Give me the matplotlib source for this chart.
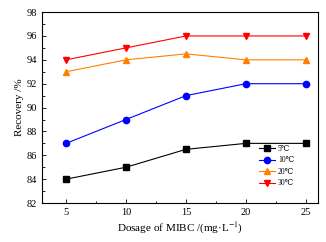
import matplotlib
matplotlib.use("Agg")
import matplotlib.pyplot as plt
from matplotlib.ticker import MultipleLocator

dosage = [5, 10, 15, 20, 25]
rec_5 = [84, 85, 86.5, 87, 87]
rec_10 = [87, 89, 91, 92, 92]
rec_20 = [93, 94, 94.5, 94, 94]
rec_30 = [94, 95, 96, 96, 96]
labels = ["5\u2103", "10\u2103", "20\u2103", "30\u2103"]

plt.rcParams["font.family"] = ["Liberation Serif", "DejaVu Serif"]
plt.rcParams["mathtext.fontset"] = "stix"

fig = plt.figure(figsize=(3.26, 2.42), dpi=100)
ax = fig.add_axes([0.129, 0.161, 0.846, 0.789])

styles = [("black", "s"), ("blue", "o"), ("#ff8000", "^"), ("red", "v")]
for ys, lab, (c, mk) in zip([rec_5, rec_10, rec_20, rec_30], labels, styles):
    ax.plot(dosage, ys, color=c, marker=mk, ms=4.5, lw=0.8, label=lab)

ax.set_xlim(3, 26)
ax.set_ylim(82, 98)
ax.xaxis.set_major_locator(MultipleLocator(5))
ax.xaxis.set_minor_locator(MultipleLocator(2.5))
ax.yaxis.set_major_locator(MultipleLocator(2))
ax.yaxis.set_minor_locator(MultipleLocator(1))
ax.tick_params(which="both", direction="in", labelsize=7.5, width=0.6)
ax.tick_params(which="major", length=3)
ax.tick_params(which="minor", length=1.8)
for s in ax.spines.values():
    s.set_linewidth(0.8)

ax.set_xlabel("Dosage of MIBC /(mg\u00b7L$^{-1}$)", fontsize=8, labelpad=3)
ax.set_ylabel("Recovery /%", fontsize=8, labelpad=2)

ax.legend(loc="upper left", bbox_to_anchor=(0.775, 0.32), frameon=False,
          borderaxespad=0, fontsize=5.5, handlelength=2.1, labelspacing=0.45,
          handletextpad=0.4)

fig.savefig("out.png", dpi=100)
